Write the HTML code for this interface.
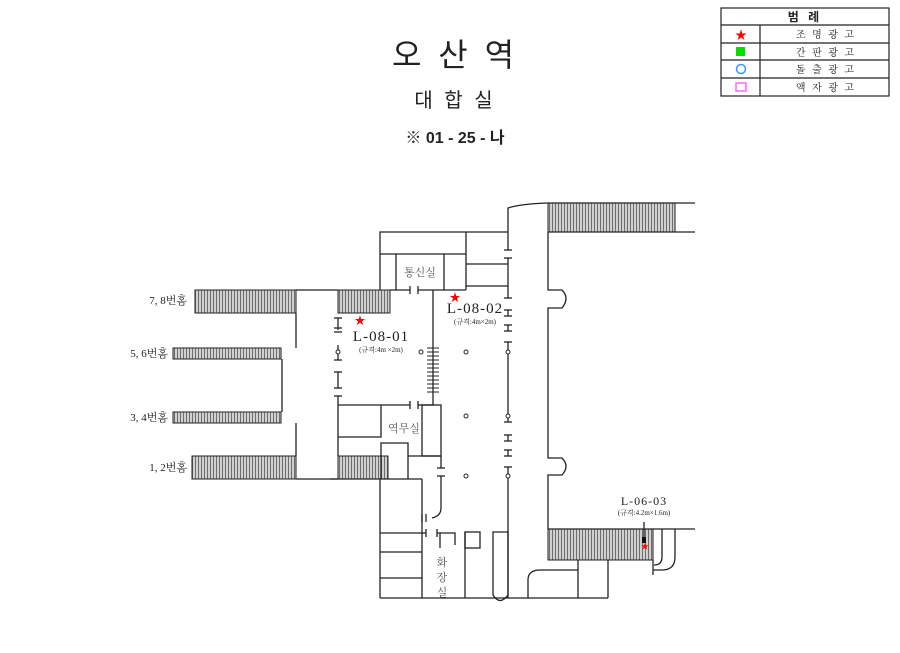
<!DOCTYPE html>
<html><head><meta charset="utf-8"><style>
html,body{margin:0;padding:0;background:#fff}
svg{display:block}
text{font-family:"Liberation Serif","Noto Serif CJK SC","Noto Sans CJK KR",serif;fill:#222}
.sans{font-family:"Liberation Sans","Noto Sans CJK KR",sans-serif}
</style></head><body>
<svg width="900" height="653" viewBox="0 0 900 653" xmlns="http://www.w3.org/2000/svg">
<defs>
<pattern id="h" width="3" height="10" patternUnits="userSpaceOnUse">
<rect width="3" height="10" fill="#d0d0d0"/><line x1="0.5" y1="0" x2="0.5" y2="10" stroke="#444" stroke-width="0.7"/>
</pattern>
</defs>
<!-- legend -->
<g stroke="#222" stroke-width="1.2" fill="none">
<rect x="721" y="8" width="168" height="88"/>
<line x1="721" y1="25" x2="889" y2="25"/>
<line x1="721" y1="43" x2="889" y2="43"/>
<line x1="721" y1="60" x2="889" y2="60"/>
<line x1="721" y1="78" x2="889" y2="78"/>
<line x1="760" y1="25" x2="760" y2="96"/>
</g>
<text x="805" y="21" font-size="12" font-weight="bold" text-anchor="middle" class="sans" letter-spacing="3">범 례</text>
<text x="741" y="39" font-size="12" style="fill:red" text-anchor="middle">★</text>
<rect x="736" y="47" width="9" height="9" fill="#00e000"/>
<circle cx="741" cy="69" r="4.5" fill="none" stroke="#3399ff" stroke-width="1.5"/>
<rect x="736" y="83" width="10" height="8" fill="none" stroke="#ff66ff" stroke-width="1.5"/>
<g font-size="10" text-anchor="middle" letter-spacing="2">
<text x="826" y="38">조 명 광 고</text>
<text x="826" y="56">간 판 광 고</text>
<text x="826" y="73">돌 출 광 고</text>
<text x="826" y="91">액 자 광 고</text>
</g>
<!-- titles -->
<text x="455" y="66" font-size="32" text-anchor="middle" class="sans" letter-spacing="4">오 산 역</text>
<text x="455" y="107" font-size="20" text-anchor="middle" class="sans" letter-spacing="3">대 합 실</text>
<text x="455" y="143" font-size="16" text-anchor="middle" font-weight="bold" class="sans">※ 01 - 25 - 나</text>

<!-- hatched stairs -->
<g stroke="#222" stroke-width="1">
<rect x="195" y="290" width="101" height="23" fill="url(#h)"/>
<rect x="173" y="348" width="108" height="11" fill="url(#h)"/>
<rect x="173" y="412" width="108" height="11" fill="url(#h)"/>
<rect x="192" y="456" width="104" height="23" fill="url(#h)"/>
<rect x="338" y="290" width="52" height="23" fill="url(#h)"/>
<rect x="338" y="456" width="50" height="23" fill="url(#h)"/>
<rect x="548" y="203" width="127" height="29" fill="url(#h)"/>
<rect x="548" y="529" width="105" height="31" fill="url(#h)"/>
</g>
<g stroke="#222" stroke-width="1">
<line x1="433" y1="345" x2="433" y2="395" stroke-width="1.3"/>
<line x1="427" y1="348" x2="439" y2="348"/><line x1="427" y1="352" x2="439" y2="352"/>
<line x1="427" y1="356" x2="439" y2="356"/><line x1="427" y1="360" x2="439" y2="360"/>
<line x1="427" y1="364" x2="439" y2="364"/><line x1="427" y1="368" x2="439" y2="368"/>
<line x1="427" y1="372" x2="439" y2="372"/><line x1="427" y1="376" x2="439" y2="376"/>
<line x1="427" y1="380" x2="439" y2="380"/><line x1="427" y1="384" x2="439" y2="384"/>
<line x1="427" y1="388" x2="439" y2="388"/><line x1="427" y1="392" x2="439" y2="392"/>
</g>
<g stroke="#222" stroke-width="1.3" fill="none">
<polyline points="296,313 296,348"/>
<polyline points="282,359 282,412"/>
<polyline points="296,423 296,456"/>
<line x1="296" y1="290" x2="338" y2="290"/>
<line x1="296" y1="479" x2="338" y2="479"/>
<line x1="390" y1="290" x2="410" y2="290"/>
<line x1="418" y1="290" x2="466" y2="290"/>
<line x1="410" y1="286" x2="410" y2="294"/><line x1="418" y1="286" x2="418" y2="294"/>
<g>
<line x1="338" y1="318" x2="338" y2="330"/><line x1="334" y1="318" x2="342" y2="318"/>
<line x1="334" y1="328" x2="342" y2="328"/><line x1="334" y1="332" x2="342" y2="332"/>
<line x1="338" y1="345" x2="338" y2="360"/><line x1="334" y1="360" x2="342" y2="360"/>
<line x1="338" y1="372" x2="338" y2="388"/><line x1="334" y1="372" x2="342" y2="372"/><line x1="334" y1="388" x2="342" y2="388"/>
<line x1="338" y1="396" x2="338" y2="405"/><line x1="334" y1="396" x2="342" y2="396"/>
</g>
<polyline points="380,290 380,232 508,232"/>
<line x1="380" y1="254" x2="466" y2="254"/>
<line x1="396" y1="254" x2="396" y2="290"/>
<line x1="444" y1="254" x2="444" y2="290"/>
<line x1="466" y1="232" x2="466" y2="290"/>
<line x1="466" y1="264" x2="508" y2="264"/>
<line x1="466" y1="286" x2="508" y2="286"/>
<line x1="433" y1="290" x2="433" y2="345"/>
<line x1="433" y1="395" x2="433" y2="405"/>
<path d="M508,250 L508,208 Q520,204 548,203 L695,203"/>
<line x1="548" y1="232" x2="695" y2="232"/>
<g>
<line x1="504" y1="250" x2="512" y2="250"/>
<line x1="504" y1="258" x2="512" y2="258"/><line x1="508" y1="258" x2="508" y2="298"/><line x1="504" y1="298" x2="512" y2="298"/>
<line x1="504" y1="310" x2="512" y2="310"/><line x1="508" y1="310" x2="508" y2="316"/><line x1="504" y1="316" x2="512" y2="316"/>
<line x1="504" y1="325" x2="512" y2="325"/><line x1="508" y1="325" x2="508" y2="331"/><line x1="504" y1="331" x2="512" y2="331"/>
<line x1="504" y1="342" x2="512" y2="342"/><line x1="508" y1="342" x2="508" y2="422"/><line x1="504" y1="422" x2="512" y2="422"/>
<line x1="504" y1="435" x2="512" y2="435"/><line x1="508" y1="435" x2="508" y2="441"/><line x1="504" y1="441" x2="512" y2="441"/>
<line x1="504" y1="450" x2="512" y2="450"/><line x1="508" y1="450" x2="508" y2="456"/><line x1="504" y1="456" x2="512" y2="456"/>
<line x1="504" y1="467" x2="512" y2="467"/><line x1="508" y1="467" x2="508" y2="598"/>
</g>
<path d="M548,232 L548,290 L562,290 Q570,298 562,308 L548,308 L548,458 L562,458 Q570,466 562,475 L548,475 L548,529 L695,529"/>
<line x1="653" y1="560" x2="653" y2="575"/>
<path d="M662,529 L662,557 Q662,565 654,565"/>
<path d="M675,529 L675,557 Q675,570 662,570 L653,570"/>
<line x1="578" y1="560" x2="578" y2="598"/><line x1="608" y1="560" x2="608" y2="598"/>
<path d="M528,598 L528,580 Q528,570 540,570 L578,570"/>
<line x1="338" y1="405" x2="410" y2="405"/><line x1="418" y1="405" x2="433" y2="405"/>
<line x1="410" y1="401" x2="410" y2="409"/><line x1="418" y1="401" x2="418" y2="409"/>
<line x1="338" y1="405" x2="338" y2="456"/>
<polyline points="338,437 381,437 381,405"/>
<rect x="422" y="405" width="19" height="51"/>
<polyline points="381,479 381,443 408,443 408,479"/>
<line x1="408" y1="456" x2="441" y2="456"/>
<line x1="441" y1="456" x2="441" y2="468"/><line x1="437" y1="468" x2="445" y2="468"/>
<line x1="437" y1="476" x2="445" y2="476"/>
<path d="M441,476 L441,508 Q441,516 432,518"/>
<line x1="422" y1="514" x2="422" y2="522"/><line x1="426" y1="514" x2="426" y2="522"/>
<line x1="330" y1="479" x2="422" y2="479"/>
<line x1="380" y1="479" x2="380" y2="598"/>
<line x1="422" y1="479" x2="422" y2="598"/>
<line x1="380" y1="533" x2="422" y2="533"/>
<line x1="380" y1="552" x2="422" y2="552"/>
<line x1="380" y1="578" x2="422" y2="578"/>
<line x1="422" y1="533" x2="426" y2="533"/><line x1="426" y1="529" x2="426" y2="537"/>
<line x1="437" y1="529" x2="437" y2="537"/>
<polyline points="437,533 440,533 440,548"/>
<polyline points="440,533 455,533 455,545"/>
<line x1="380" y1="598" x2="608" y2="598"/>
<line x1="465" y1="532" x2="465" y2="598"/>
<rect x="465" y="532" width="15" height="16"/>
<path d="M493,532 L508,532 L508,595 Q500,606 493,595 Z"/>
</g>
<g fill="#fff" stroke="#222" stroke-width="1">
<circle cx="338" cy="352" r="2"/>
<circle cx="421" cy="352" r="2"/>
<circle cx="466" cy="352" r="2"/>
<circle cx="508" cy="352" r="2"/>
<circle cx="466" cy="416" r="2"/>
<circle cx="508" cy="416" r="2"/>
<circle cx="466" cy="476" r="2"/>
<circle cx="508" cy="476" r="2"/>
</g>
<text x="360" y="324" font-size="11" style="fill:red" text-anchor="middle">★</text>
<text x="455" y="301" font-size="11" style="fill:red" text-anchor="middle">★</text>
<rect x="642" y="537" width="4" height="6" fill="#111"/>
<line x1="644" y1="522" x2="644" y2="537" stroke="#222" stroke-width="1.3"/>
<text x="645" y="549" font-size="8" style="fill:red" text-anchor="middle">★</text>
<g font-size="11" text-anchor="end">
<text x="187" y="304">7, 8번홈</text>
<text x="168" y="357">5, 6번홈</text>
<text x="168" y="421">3, 4번홈</text>
<text x="187" y="471">1, 2번홈</text>
</g>
<g text-anchor="middle">
<text x="420" y="276" font-size="11" style="fill:#555">통신실</text>
<text x="404" y="432" font-size="11" style="fill:#555">역무실</text>
<text x="442" y="566" font-size="11" style="fill:#555">화</text>
<text x="442" y="581" font-size="11" style="fill:#555">장</text>
<text x="442" y="596" font-size="11" style="fill:#555">실</text>
<text x="381" y="341" font-size="15" letter-spacing="1">L-08-01</text>
<text x="381" y="352" font-size="7">(규격:4m ×2m)</text>
<text x="475" y="313" font-size="15" letter-spacing="1">L-08-02</text>
<text x="475" y="324" font-size="7">(규격:4m×2m)</text>
<text x="644" y="505" font-size="12" letter-spacing="1">L-06-03</text>
<text x="644" y="515" font-size="7">(규격:4.2m×1.6m)</text>
</g>
</svg>
</body></html>
